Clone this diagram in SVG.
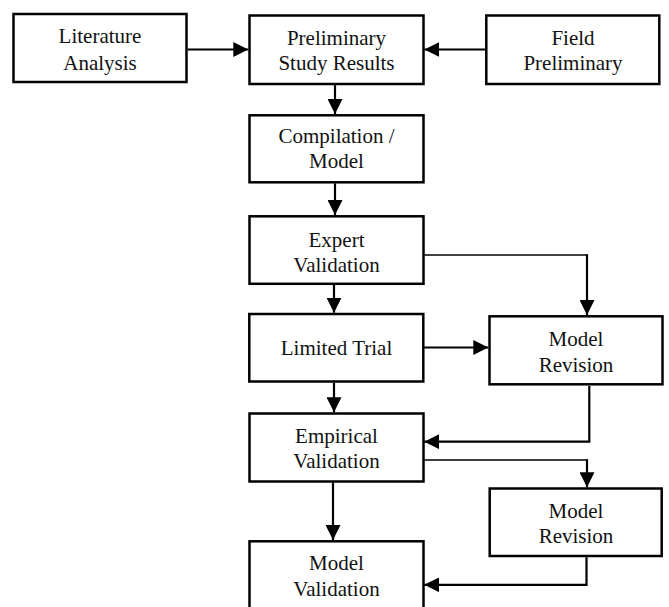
<svg xmlns="http://www.w3.org/2000/svg" width="669" height="607" viewBox="0 0 669 607">
<style>
  .box { fill: #ffffff; stroke: #000000; stroke-width: 2.5; }
  .lbl { font-family: "Liberation Serif", "Times New Roman", serif; font-size: 21px; fill: #111111; text-anchor: middle; }
  .con { fill: none; stroke: #000000; stroke-width: 2.2; }
  .thin { fill: none; stroke: #000000; stroke-width: 1.4; }
</style>
<defs>
  <marker id="arr" markerUnits="userSpaceOnUse" markerWidth="16" markerHeight="15" refX="15" refY="7.5" orient="auto">
    <path d="M0,0 L15,7.5 L0,15 z" fill="#000000"/>
  </marker>
</defs>
<rect width="669" height="607" fill="#ffffff"/>
<g id="connectors">
  <line class="con" x1="187.7" y1="49.5" x2="248.3" y2="49.5" marker-end="url(#arr)"/>
  <line class="con" x1="485" y1="49.5" x2="424.3" y2="49.5" marker-end="url(#arr)"/>
  <line class="con" x1="335" y1="85" x2="335" y2="114" marker-end="url(#arr)"/>
  <line class="con" x1="335" y1="183.3" x2="335" y2="215" marker-end="url(#arr)"/>
  <line class="con" x1="334" y1="285" x2="334" y2="312.7" marker-end="url(#arr)"/>
  <line class="con" x1="334" y1="382.7" x2="334" y2="412.3" marker-end="url(#arr)"/>
  <line class="con" x1="333" y1="482.7" x2="333" y2="540" marker-end="url(#arr)"/>
  <line class="thin" x1="424.3" y1="255" x2="587.5" y2="255"/>
  <line class="con" x1="587" y1="254.3" x2="587" y2="315" marker-end="url(#arr)"/>
  <line class="con" x1="424" y1="347.5" x2="488.3" y2="347.5" marker-end="url(#arr)"/>
  <path class="con" d="M589.3,385.7 V441.7 H424.3" marker-end="url(#arr)"/>
  <line class="thin" x1="424.3" y1="460" x2="587.5" y2="460"/>
  <line class="con" x1="587" y1="459.3" x2="587" y2="487.3" marker-end="url(#arr)"/>
  <path class="con" d="M586.5,557.3 V584.8 H424.3" marker-end="url(#arr)"/>
</g>
<g id="literature">
  <rect class="box" x="13.5" y="14" width="173" height="68"/>
  <text class="lbl" x="100" y="43.3">Literature</text>
  <text class="lbl" x="100" y="70">Analysis</text>
</g>
<g id="preliminary">
  <rect class="box" x="249.5" y="15.5" width="174" height="68.5"/>
  <text class="lbl" x="336.5" y="45">Preliminary</text>
  <text class="lbl" x="336.5" y="70">Study Results</text>
</g>
<g id="field">
  <rect class="box" x="486.3" y="15.5" width="173" height="68.5"/>
  <text class="lbl" x="573" y="45">Field</text>
  <text class="lbl" x="573" y="70">Preliminary</text>
</g>
<g id="compilation">
  <rect class="box" x="249.5" y="115.3" width="174" height="67"/>
  <text class="lbl" x="336.5" y="143.3">Compilation /</text>
  <text class="lbl" x="336.5" y="168.3">Model</text>
</g>
<g id="expert">
  <rect class="box" x="249.5" y="216.3" width="174" height="67.5"/>
  <text class="lbl" x="336.5" y="246.7">Expert</text>
  <text class="lbl" x="336.5" y="271.7">Validation</text>
</g>
<g id="limited">
  <rect class="box" x="249.3" y="314" width="174" height="67.5"/>
  <text class="lbl" x="336.5" y="355">Limited Trial</text>
</g>
<g id="empirical">
  <rect class="box" x="249.5" y="413.5" width="174" height="68"/>
  <text class="lbl" x="336.5" y="443.3">Empirical</text>
  <text class="lbl" x="336.5" y="468.3">Validation</text>
</g>
<g id="model-validation">
  <rect class="box" x="249.5" y="541.3" width="174" height="68"/>
  <text class="lbl" x="336.5" y="570">Model</text>
  <text class="lbl" x="336.5" y="596">Validation</text>
</g>
<g id="model-revision-1">
  <rect class="box" x="489.5" y="316.3" width="173" height="68"/>
  <text class="lbl" x="576" y="346">Model</text>
  <text class="lbl" x="576" y="371.7">Revision</text>
</g>
<g id="model-revision-2">
  <rect class="box" x="489.7" y="488.5" width="172" height="67.5"/>
  <text class="lbl" x="576" y="517.7">Model</text>
  <text class="lbl" x="576" y="543.3">Revision</text>
</g>
</svg>
